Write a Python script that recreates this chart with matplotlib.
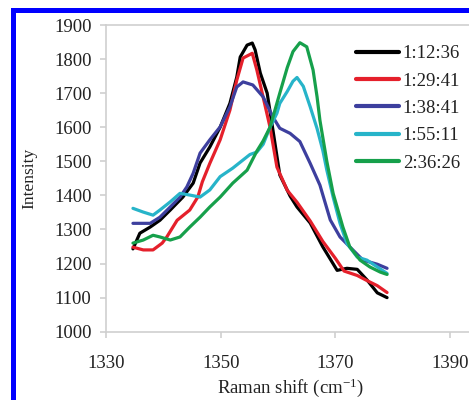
import matplotlib
matplotlib.use('Agg')
import matplotlib.pyplot as plt
from matplotlib.patches import Rectangle

plt.rcParams['font.family'] = ['Liberation Serif', 'DejaVu Serif']
plt.rcParams['mathtext.fontset'] = 'custom'
plt.rcParams['mathtext.rm'] = 'Liberation Serif'
plt.rcParams['mathtext.it'] = 'Liberation Serif:italic'

# Raman spectra (shift in cm-1, intensity)
labels = ['1:12:36', '1:29:41', '1:38:41', '1:55:11', '2:36:26']
colors = ['#000000', '#e5202b', '#3d3f9e', '#27b4c9', '#16a04b']

shift_1 = [1334.7, 1335.9, 1337.7, 1339.4, 1341.2, 1343.4, 1345.2, 1346.4, 1348.1, 1349.9,
           1351.6, 1352.8, 1353.4, 1354.6, 1355.5, 1356.0, 1356.9, 1358.1, 1359.1, 1360.3,
           1362.1, 1363.3, 1365.6, 1367.8, 1370.3, 1372.0, 1373.8, 1375.5, 1377.3, 1379.0]
int_1 = [1243, 1289, 1307, 1327, 1357, 1395, 1436, 1495, 1542, 1600,
         1670, 1747, 1806, 1841, 1847, 1827, 1759, 1700, 1592, 1460,
         1398, 1366, 1319, 1249, 1180, 1186, 1183, 1152, 1114, 1100]

shift_2 = [1334.7, 1336.5, 1338.2, 1339.8, 1340.6, 1342.4, 1344.6, 1346.0, 1346.8, 1348.1,
           1349.9, 1351.6, 1352.8, 1353.9, 1355.5, 1356.3, 1357.4, 1358.6, 1359.8, 1361.6,
           1363.3, 1365.6, 1367.8, 1370.0, 1371.5, 1373.8, 1375.5, 1377.3, 1379.0]
int_2 = [1248, 1240, 1240, 1260, 1278, 1327, 1357, 1395, 1440, 1494,
         1563, 1650, 1738, 1803, 1817, 1768, 1688, 1600, 1483, 1415,
         1380, 1325, 1265, 1215, 1178, 1165, 1150, 1135, 1115]

shift_3 = [1334.7, 1337.7, 1339.4, 1341.2, 1342.9, 1344.1, 1345.2, 1346.4, 1348.1, 1349.9,
           1351.6, 1352.8, 1353.9, 1355.6, 1357.4, 1359.1, 1360.3, 1362.1, 1363.8, 1365.6,
           1367.3, 1369.1, 1370.8, 1372.5, 1374.8, 1377.3, 1379.0]
int_3 = [1318, 1318, 1336, 1366, 1395, 1425, 1465, 1524, 1563, 1601,
         1660, 1718, 1733, 1724, 1689, 1630, 1597, 1582, 1558, 1494,
         1430, 1328, 1278, 1249, 1210, 1198, 1186]

shift_4 = [1334.7, 1336.5, 1338.2, 1339.4, 1341.2, 1342.9, 1344.6, 1346.4, 1348.1, 1349.9,
           1352.1, 1353.9, 1355.1, 1356.3, 1357.4, 1358.6, 1359.8, 1360.3, 1361.6, 1362.6,
           1363.3, 1364.4, 1365.6, 1366.8, 1367.8, 1368.5, 1369.6, 1370.8, 1372.0, 1373.8,
           1375.5, 1377.3, 1379.0]
int_4 = [1362, 1351, 1342, 1357, 1381, 1406, 1401, 1395, 1416, 1455,
         1480, 1504, 1520, 1527, 1550, 1600, 1641, 1670, 1705, 1735,
         1746, 1720, 1660, 1596, 1532, 1474, 1395, 1318, 1259, 1219,
         1210, 1190, 1171]

shift_5 = [1334.7, 1336.5, 1338.2, 1339.4, 1341.2, 1342.9, 1344.6, 1346.4, 1348.1, 1349.9,
           1352.1, 1354.6, 1356.3, 1357.4, 1358.6, 1360.3, 1361.6, 1362.6, 1363.8, 1365.0,
           1366.1, 1366.8, 1367.3, 1368.5, 1369.6, 1371.3, 1372.5, 1374.3, 1376.0, 1377.8,
           1379.0]
int_5 = [1260, 1269, 1283, 1278, 1269, 1278, 1307, 1336, 1366, 1395,
         1436, 1474, 1530, 1560, 1600, 1700, 1775, 1822, 1848, 1836,
         1768, 1689, 1620, 1500, 1406, 1307, 1249, 1210, 1190, 1175,
         1168]

shifts = [shift_1, shift_2, shift_3, shift_4, shift_5]
intens = [int_1, int_2, int_3, int_4, int_5]

W, H = 469, 400
fig = plt.figure(figsize=(W / 100, H / 100), dpi=100)

# axes runs past the right edge like the cropped original
ax = fig.add_axes([106 / W, (H - 331.7) / H, 401.5 / W, 306.7 / H])

for x, y, c, lab in zip(shifts, intens, colors, labels):
    ax.plot(x, y, color=c, lw=2.3, label=lab, solid_capstyle='round',
            solid_joinstyle='round')

ax.set_xlim(1330, 1400)
ax.set_ylim(1000, 1900)
ax.set_xticks([1330, 1350, 1370, 1390])
ax.set_yticks(range(1000, 1901, 100))

grey = '#cfcfcf'
for s in ['left', 'bottom', 'top']:
    ax.spines[s].set_color(grey)
    ax.spines[s].set_linewidth(1.2)
ax.spines['right'].set_visible(False)
ax.tick_params(axis='both', colors=grey, labelcolor='#222222', length=4.5, width=1.2,
               labelsize=13.5)
ax.tick_params(axis='x', pad=12)
ax.tick_params(axis='y', pad=6)

ax.set_ylabel('Intensity', fontsize=12.5, color='#222222')
ax.yaxis.set_label_coords((37 - 106) / 401.5, 0.5)
ax.set_xlabel('Raman shift (cm$^{-1}$)', fontsize=13.5, color='#222222')
ax.xaxis.set_label_coords((290 - 106) / 401.5, (331.7 - 376) / 306.7)

leg = fig.legend(loc='upper left', bbox_to_anchor=(356 / W, 1 - 45 / H), frameon=False,
                 fontsize=13.5, handlelength=2.3, handletextpad=0.2, labelspacing=0.55,
                 borderpad=0, borderaxespad=0)
for t in leg.get_texts():
    t.set_color('#222222')
for h in leg.legend_handles:
    h.set_linewidth(3)

# blue frame on left and top
fig.add_artist(Rectangle((11 / W, 0), 5 / W, (H - 8) / H, transform=fig.transFigure,
                         color='#0000ff', lw=0))
fig.add_artist(Rectangle((11 / W, (H - 13) / H), 1, 5 / H, transform=fig.transFigure,
                         color='#0000ff', lw=0))

fig.savefig('out.png', dpi=100)
